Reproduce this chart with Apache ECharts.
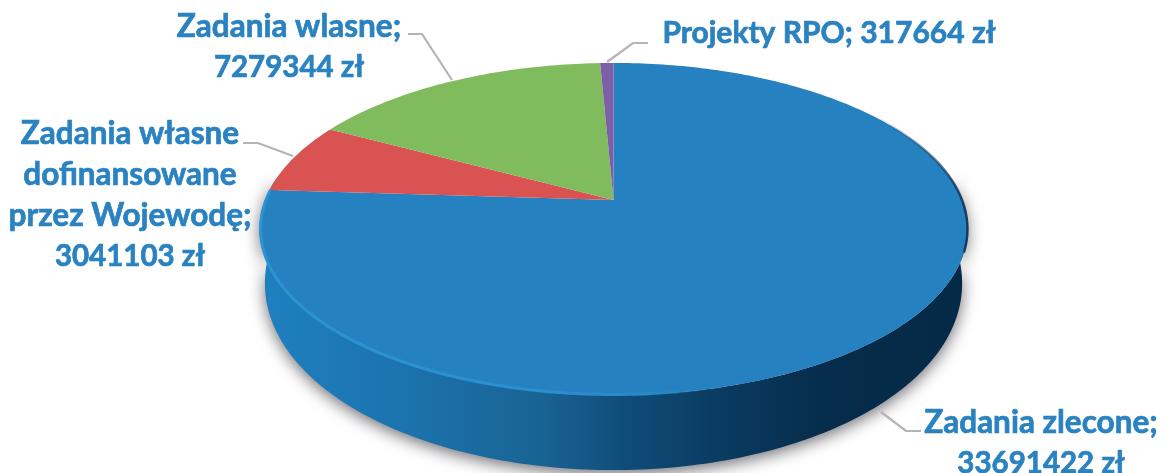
<!DOCTYPE html>
<html><head><meta charset="utf-8">
<script src="https://cdn.jsdelivr.net/npm/echarts@6/dist/echarts.min.js"></script>
<style>html,body{margin:0;padding:0;background:#fff}#c{width:1166px;height:473px;filter:blur(0.45px)}</style>
</head><body><div id="c"></div>
<script>
const categories = ['Zadania zlecone', 'Zadania własne dofinansowane przez Wojewodę', 'Zadania wlasne', 'Projekty RPO'];
const values = [33691422, 3041103, 7279344, 317664];
const labelLines = [
  ['Zadania zlecone;', '33691422 zł'],
  ['Zadania własne', 'dofinansowane', 'przez Wojewodę;', '3041103 zł'],
  ['Zadania wlasne;', '7279344 zł'],
  ['Projekty RPO; 317664 zł']
];
const labelSizes = [[31.5, 29.5], [31.5, 31.5, 31.5, 29.5], [31.5, 29.5], [30]];
const sliceColors = ['#2681c0', '#d95353', '#80bb5d', '#7c5fa8'];
const labelAnchors = [[1041, 423], [130, 134], [289, 27], [829, 33]];
const leaders = [
  [[921, 431], [906, 431], [881, 412]],
  [[243, 143], [258, 143], [293, 156]],
  [[408, 34], [422, 34], [452, 80]],
  [[648, 43], [633, 43], [607, 62]]
];
const TEXT = '#2a82c0', LINE = '#b4b4b8', FONT = 'Lato', LH = 40.7;
const CX = 613.5, AY = 200, A = 348.5, K = 161, P = 0.1747;
const total = values.reduce((a, b) => a + b, 0);

function proj(t, inset) {
  const u = Math.sin(t), v = Math.cos(t), d = 1 + P * v, s = inset || 1;
  return [CX + s * A * u / d, AY - s * K * v / d];
}
function arc(t0, t1, n, inset) {
  const out = [];
  for (let i = 0; i <= n; i++) out.push(proj(t0 + (t1 - t0) * i / n, inset));
  return out;
}
function rad(d) { return d * Math.PI / 180; }
function grad(x0, x1, stops) {
  return new echarts.graphic.LinearGradient(x0, 0, x1, 0,
    stops.map(s => ({offset: s[0], color: s[1]})), true);
}
function wallChildren() {
  const top = arc(rad(278), rad(82), 200);
  const bottom = top.slice().reverse().map((p, i) => {
    const t = rad(82 + (278 - 82) * i / 200);
    return [CX + (p[0] - CX) * 0.985, p[1] + 50 - 25 * Math.cos(t)];
  });
  return [{
    type: 'polygon', silent: true,
    shape: {points: top.concat(bottom)},
    style: {
      fill: grad(258, 968, [[0, '#1f80c0'], [0.2, '#1c73ae'], [0.4, '#196394'], [0.52, '#0f4c78'], [0.66, '#0a3a60'], [0.8, '#062c4b'], [1, '#052a47']]),
      shadowBlur: 16, shadowColor: 'rgba(50,50,60,0.7)', shadowOffsetY: 4
    }
  }];
}
function renderItem(params, api) {
  const i = params.dataIndex;
  let start = 0;
  for (let k = 0; k < i; k++) start += values[k];
  const t0 = start / total * 2 * Math.PI;
  const t1 = (start + api.value(0)) / total * 2 * Math.PI;
  const children = i === 0 ? wallChildren() : [];
  const n = Math.max(8, Math.round((t1 - t0) * 60));
  children.push({
    type: 'polygon', silent: true,
    shape: {points: [[CX, AY]].concat(arc(t0, t1, n))},
    style: {fill: sliceColors[i]}
  });
  if (i === 0) {
    children.push({
      type: 'polyline', silent: true,
      shape: {points: arc(rad(165), t1, 200, 0.997)},
      style: {
        fill: 'none', lineWidth: 3,
        stroke: grad(258, 720, [[0, '#2b93d3'], [0.6, '#2c90d0'], [0.85, '#2988c7'], [1, 'rgba(38,129,192,0)']])
      }
    });
    children.push({
      type: 'polyline', silent: true,
      shape: {points: arc(rad(45), rad(108), 80)},
      style: {
        fill: 'none', lineWidth: 2.5,
        stroke: grad(870, 968, [[0, 'rgba(14,50,80,0)'], [0.75, 'rgba(14,50,80,0.65)'], [1, 'rgba(14,50,80,0.9)']])
      }
    });
  }
  children.push({
    type: 'polyline', silent: true,
    shape: {points: leaders[i]},
    style: {fill: 'none', stroke: LINE, lineWidth: 2.2}
  });
  labelLines[i].forEach((line, j) => {
    children.push({
      type: 'text', silent: true,
      style: {
        x: labelAnchors[i][0], y: labelAnchors[i][1] + j * LH,
        text: line, fill: TEXT, stroke: TEXT, lineWidth: 0.7,
        align: 'center', verticalAlign: 'middle',
        font: 'bold ' + labelSizes[i][j] + 'px ' + FONT
      }
    });
  });
  return {type: 'group', children};
}
const chart = echarts.init(document.getElementById('c'), null, {renderer: 'canvas'});
chart.setOption({
  animation: false,
  backgroundColor: '#fff',
  series: [{
    type: 'custom',
    coordinateSystem: 'none',
    renderItem,
    data: values.map((v, i) => ({name: categories[i], value: [v]}))
  }]
});
</script></body></html>
